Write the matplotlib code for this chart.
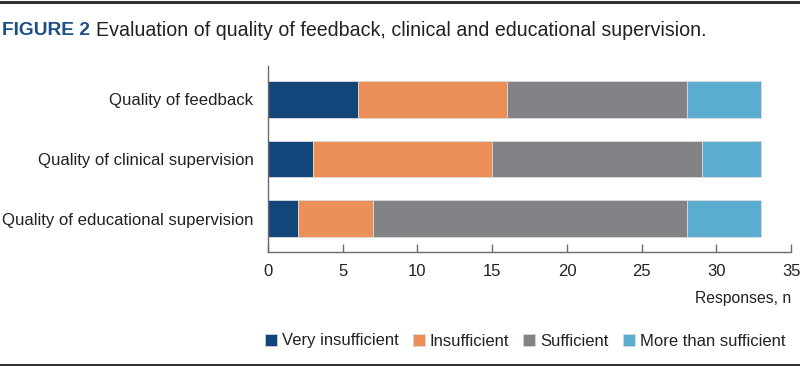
import matplotlib
matplotlib.use("Agg")
import matplotlib.pyplot as plt
import numpy as np
from matplotlib.patches import Patch

categories = ["Quality of feedback", "Quality of clinical supervision", "Quality of educational supervision"]
series_names = ["Very insufficient", "Insufficient", "Sufficient", "More than sufficient"]
very_insufficient = [6, 3, 2]
insufficient = [10, 12, 5]
sufficient = [12, 14, 21]
more_than_sufficient = [5, 4, 5]
xticks = [0, 5, 10, 15, 20, 25, 30, 35]
colors = ["#12467a", "#ec9059", "#828387", "#5badd0"]

plt.rcParams['font.family'] = ['Liberation Sans', 'DejaVu Sans']

fig = plt.figure(figsize=(8, 3.66), dpi=100)
ax = fig.add_axes([0.335, 1 - 252/366, 0.989 - 0.335, (252 - 66)/366])

series = [very_insufficient, insufficient, sufficient, more_than_sufficient]
y = np.arange(len(categories))
left = np.zeros(len(categories))
for vals, c, name in zip(series, colors, series_names):
    ax.barh(y, vals, left=left, height=0.62, color=c, edgecolor="#dcdcdc", linewidth=0.6, label=name)
    left += np.array(vals)

ax.set_ylim(2.563, -0.563)
ax.set_xlim(0, 35)
ax.set_xticks(xticks)
ax.set_yticks(y)
ax.set_yticklabels(categories, fontsize=12.1, color="#222222")
ax.tick_params(axis="y", length=0, pad=10.5)
ax.tick_params(axis="x", direction="in", length=6, width=1, color="#6b6b6b", labelsize=12,
               labelcolor="#222222", pad=9)
for s in ["top", "right"]:
    ax.spines[s].set_visible(False)
for s in ["left", "bottom"]:
    ax.spines[s].set_color("#6b6b6b")
    ax.spines[s].set_linewidth(1)

fig.text(0.989, 1 - 298/366, "Responses, n", ha="right", va="center", fontsize=11.3, color="#222222")

# Title
t1 = fig.text(0.003, 1 - 30.5/366, "FIGURE 2", ha="left", va="center", fontsize=13.8,
              fontweight="bold", color="#1c4f86")
fig.canvas.draw()
bb = t1.get_window_extent()
fig.text((bb.x1 + 6) / 800, 1 - 30.5/366, "Evaluation of quality of feedback, clinical and educational supervision.",
         ha="left", va="center", fontsize=14.1, color="#222222")

# Rules
fig.add_artist(plt.Line2D([0, 1], [1 - 1.5/366, 1 - 1.5/366], color="#333333", linewidth=2.2))
fig.add_artist(plt.Line2D([0, 1], [1 - 364.5/366, 1 - 364.5/366], color="#333333", linewidth=2.2))

handles = [Patch(facecolor=c, edgecolor="#dcdcdc", linewidth=0.5) for c in colors]
fig.legend(handles, series_names, loc="center right", bbox_to_anchor=(0.99, 1 - 341/366),
           ncol=4, frameon=False, fontsize=12, handlelength=0.72, handleheight=0.72,
           handletextpad=0.3, columnspacing=0.85, labelcolor="#222222", borderaxespad=0)

fig.savefig("out.png", dpi=100)
